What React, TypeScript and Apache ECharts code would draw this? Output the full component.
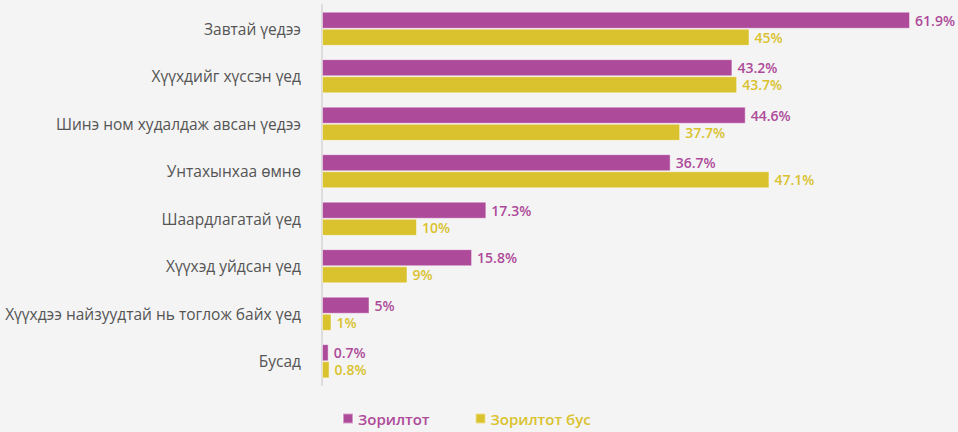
import React, { useEffect, useRef } from "react";
import * as echarts from "echarts";

const categories = [
  "Завтай үедээ",
  "Хүүхдийг хүссэн үед",
  "Шинэ ном худалдаж авсан үедээ",
  "Унтахынхаа өмнө",
  "Шаардлагатай үед",
  "Хүүхэд уйдсан үед",
  "Хүүхдээ найзуудтай нь тоглож байх үед",
  "Бусад",
];
const seriesNames = ["Зорилтот", "Зорилтот бус"];
const targetValues = [61.9, 43.2, 44.6, 36.7, 17.3, 15.8, 5, 0.7];
const nonTargetValues = [45, 43.7, 37.7, 47.1, 10, 9, 1, 0.8];

const PURPLE = "#ae4a9a";
const YELLOW = "#d9c22e";
const FONT = "'Open Sans', 'Noto Sans', sans-serif";

export default function App() {
  const ref = useRef<HTMLDivElement>(null);
  useEffect(() => {
    const chart = echarts.init(ref.current!, null, { renderer: "svg" });
    const mk = (name: string, data: number[], color: string) => ({
      name,
      type: "bar",
      data,
      barGap: "0%",
      barCategoryGap: "28%",
      itemStyle: { color, borderColor: "rgba(255,255,255,0.45)", borderWidth: 1 },
      label: {
        show: true,
        position: "right",
        distance: 5,
        color,
        fontFamily: FONT,
        fontSize: 14,
        fontWeight: 600,
        formatter: (p: any) => p.value + "%",
      },
    });
    chart.setOption({
      animation: false,
      backgroundColor: "#f4f4f4",
      grid: { left: 322, right: 9, top: 5, height: 380, containLabel: false },
      legend: {
        bottom: 1,
        left: 337,
        itemWidth: 10,
        itemHeight: 10,
        itemGap: 45,
        icon: "rect",
        textStyle: { fontFamily: FONT, fontSize: 15, fontWeight: 600 },
        data: [
          { name: seriesNames[0], textStyle: { color: PURPLE } },
          { name: seriesNames[1], textStyle: { color: YELLOW } },
        ],
      },
      xAxis: {
        type: "value",
        min: 0,
        max: 66,
        show: false,
      },
      yAxis: {
        type: "category",
        data: categories,
        inverse: true,
        axisLine: { show: true, lineStyle: { color: "#dcdcdc", width: 2 } },
        axisTick: { show: false },
        axisLabel: {
          color: "#555",
          fontFamily: FONT,
          fontSize: 15.5,
          margin: 21,
        },
      },
      series: [
        mk(seriesNames[0], targetValues, PURPLE),
        mk(seriesNames[1], nonTargetValues, YELLOW),
      ],
    });
    return () => chart.dispose();
  }, []);
  return <div ref={ref} style={{ width: 958, height: 432, position: "absolute", left: 0, top: 0 }} />;
}
